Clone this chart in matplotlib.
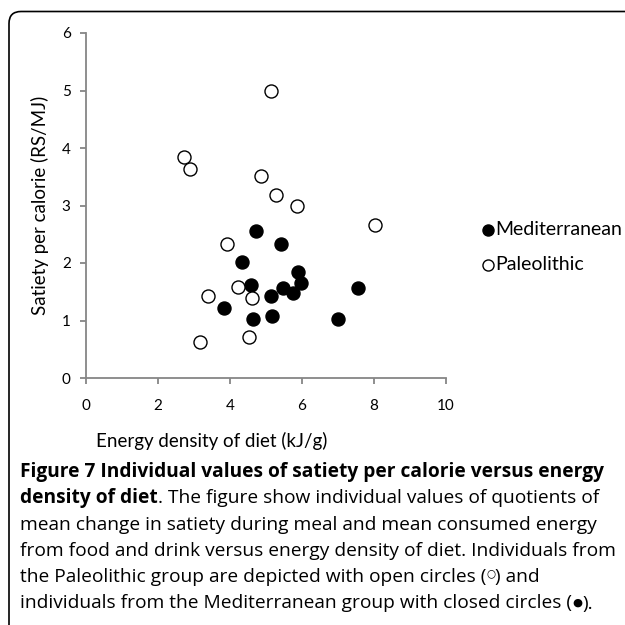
import matplotlib
matplotlib.use("Agg")
import matplotlib.pyplot as plt
from matplotlib.patches import FancyBboxPatch

# energy density (kJ/g) and satiety per calorie (RS/MJ)
med_x = [4.71, 5.43, 4.33, 5.90, 5.97, 4.58, 5.46, 7.55, 5.76, 5.14, 3.84, 4.64, 5.18, 7.01]
med_y = [2.55, 2.33, 2.01, 1.85, 1.65, 1.61, 1.57, 1.56, 1.47, 1.43, 1.21, 1.03, 1.08, 1.02]
pal_x = [5.13, 2.71, 2.88, 4.86, 5.27, 5.87, 8.02, 3.92, 4.21, 3.39, 4.62, 4.52, 3.18]
pal_y = [5.00, 3.85, 3.63, 3.51, 3.19, 3.00, 2.66, 2.33, 1.58, 1.42, 1.39, 0.71, 0.62]

xticks = [0, 2, 4, 6, 8, 10]
yticks = [0, 1, 2, 3, 4, 5, 6]

# (text, weight, relative size, vertical shift in px)
caption = [
    [("Figure 7 Individual values of satiety per calorie versus energy", "bold", 1, 0)],
    [("density of diet", "bold", 1, 0), (". The figure show individual values of quotients of", "normal", 1, 0)],
    [("mean change in satiety during meal and mean consumed energy", "normal", 1, 0)],
    [("from food and drink versus energy density of diet. Individuals from", "normal", 1, 0)],
    [("the Paleolithic group are depicted with open circles (", "normal", 1, 0),
     ("\u25cb", "normal", 0.55, 3), (") and", "normal", 1, 0)],
    [("individuals from the Mediterranean group with closed circles (", "normal", 1, 0),
     ("\u25cf", "normal", 0.6, 0), (").", "normal", 1, 0)],
]

plt.rcParams["font.family"] = ["Lato", "DejaVu Sans"]

fig = plt.figure(figsize=(6.25, 6.25), dpi=100)
ax = fig.add_axes([86 / 625, 1 - 378 / 625, 360 / 625, 345 / 625])

ax.scatter(med_x, med_y, s=88, c="black", edgecolors="black", linewidths=1.0,
           label="Mediterranean", zorder=3, clip_on=False)
ax.scatter(pal_x, pal_y, s=88, c="white", edgecolors="black", linewidths=1.0,
           label="Paleolithic", zorder=3, clip_on=False)

ax.set_xlim(0, 10)
ax.set_ylim(0, 6)
ax.set_xticks(xticks)
ax.set_yticks(yticks)
for s in ["top", "right"]:
    ax.spines[s].set_visible(False)
for s in ["left", "bottom"]:
    ax.spines[s].set_color("#868686")
    ax.spines[s].set_linewidth(1.3)
ax.tick_params(colors="#868686", labelcolor="black", length=4, width=1.3,
               labelsize=11)
ax.tick_params(axis="x", pad=11)
ax.tick_params(axis="y", pad=7)
ax.set_xlabel("Energy density of diet (kJ/g)", fontsize=13.5)
ax.xaxis.set_label_coords((212 - 86) / 360, -0.155)
ax.set_ylabel("Satiety per calorie (RS/MJ)", fontsize=13.5, labelpad=9)

leg = ax.legend(loc="center left", bbox_to_anchor=(1.062, 0.38), frameon=False,
                fontsize=14, handletextpad=-0.1, labelspacing=0.95,
                handlelength=1.0, markerscale=0.85, borderpad=0)

# caption
fig.canvas.draw()
r = fig.canvas.get_renderer()
y0 = 1 - 472 / 625
for i, line in enumerate(caption):
    x = 20 / 625
    y = y0 - i * 26.3 / 625
    for txt, w, sz, dy in line:
        t = fig.text(x, y + dy / 625, txt, fontsize=13.8 * sz, fontweight=w, va="center",
                     family=["Open Sans", "DejaVu Sans"])
        bb = t.get_window_extent(renderer=r)
        x = bb.x1 / 625

# frame with rounded top-left corner
frame = FancyBboxPatch((0.09, -1), 8, 6.135 + 1,
                       boxstyle="round,pad=0,rounding_size=0.12",
                       transform=fig.dpi_scale_trans, fill=False,
                       edgecolor="black", linewidth=1.2)
fig.patches.append(frame)

fig.savefig("out.png", dpi=100)
